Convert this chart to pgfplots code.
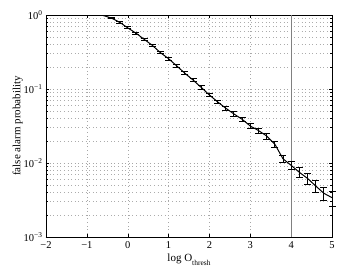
\documentclass[border=0pt]{standalone}
\usepackage{fontspec}
\setmainfont{Liberation Serif}
\usepackage{pgfplots}
\pgfplotsset{compat=1.18}
\begin{document}
\begin{tikzpicture}
\begin{axis}[
  scale only axis,
  width=286pt, height=222pt,
  xmin=-2, xmax=5,
  ymode=log, ymin=1e-3, ymax=1,
  xtick={-2,-1,0,1,2,3,4,5},
  xticklabels={−2,−1,0,1,2,3,4,5},
  ytick={1e-3,1e-2,1e-1,1},
  yticklabels={10\textsuperscript{−3},10\textsuperscript{−2},10\textsuperscript{−1},10\textsuperscript{0}},
  tick label style={font=\fontsize{10.5}{12}\selectfont},
  label style={font=\fontsize{11}{13}\selectfont},
  xlabel={log O\raisebox{-0.8ex}{\fontsize{7.5}{8}\selectfont thresh}},
  ylabel={false alarm probability},
  xlabel style={yshift=2pt},
  ylabel style={yshift=-6pt},
  xticklabel style={yshift=-1pt},
  tick align=inside,
  major tick length=3pt, minor tick length=2pt,
  xmajorgrids, ymajorgrids, yminorgrids,
  major grid style={gray!70, dash pattern=on 0.6pt off 3pt},
  minor grid style={gray!65, dash pattern=on 0.6pt off 3pt},
  axis line style={black, line width=0.8pt},
  every tick/.style={black, line width=0.4pt},
  clip=false,
]
\addplot[gray, line width=0.7pt, forget plot] coordinates {(4,1e-3) (4,1)};
\addplot[black, line width=1pt, mark=none,
  error bars/.cd, y dir=both, y explicit relative,
  error mark options={rotate=90, mark size=3.5pt, line width=0.9pt, black},
  error bar style={line width=0.9pt, black}]
coordinates {
(-0.6,0.985) +- (0,0.01)
(-0.4,0.91) +- (0,0.02)
(-0.2,0.80) +- (0,0.025)
(0.0,0.67) +- (0,0.03)
(0.2,0.57) +- (0,0.03)
(0.4,0.47) +- (0,0.03)
(0.6,0.39) +- (0,0.035)
(0.8,0.31) +- (0,0.035)
(1.0,0.257) +- (0,0.04)
(1.2,0.205) +- (0,0.04)
(1.4,0.163) +- (0,0.045)
(1.6,0.132) +- (0,0.045)
(1.8,0.105) +- (0,0.05)
(2.0,0.083) +- (0,0.05)
(2.2,0.067) +- (0,0.055)
(2.4,0.055) +- (0,0.06)
(2.6,0.046) +- (0,0.065)
(2.8,0.039) +- (0,0.07)
(3.0,0.0316) +- (0,0.075)
(3.2,0.0275) +- (0,0.08)
(3.4,0.0232) +- (0,0.09)
(3.6,0.018) +- (0,0.10)
(3.8,0.0114) +- (0,0.12)
(4.0,0.0093) +- (0,0.13)
(4.2,0.0075) +- (0,0.15)
(4.4,0.0062) +- (0,0.17)
(4.6,0.0049) +- (0,0.19)
(4.8,0.0039) +- (0,0.21)
(5.0,0.0034) +- (0,0.23)
};
\end{axis}
\pgfresetboundingbox
\path ([shift={(-46pt,-34pt)}]current axis.south west) rectangle ([shift={(7pt,15pt)}]current axis.north east);
\end{tikzpicture}
\end{document}
